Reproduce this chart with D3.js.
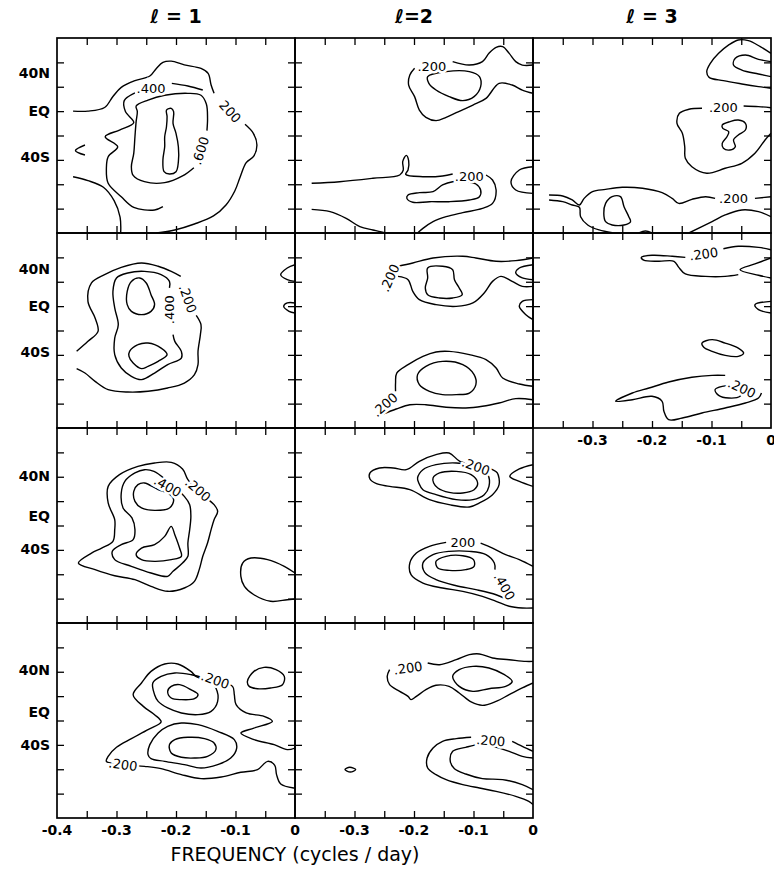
<!DOCTYPE html>
<html>
<head>
<meta charset="utf-8">
<title>Contour panels, l = 1..3</title>
<script src="https://cdn.jsdelivr.net/npm/d3@7"></script>
<style>
  body { margin: 0; background: #fff; }
  svg { display: block; }
  .ct { fill: none; stroke: #000; stroke-width: 1.4px; stroke-linejoin: round; }
  .lab { font-family: "DejaVu Sans", sans-serif; font-size: 13px; fill: #000;
         stroke: #fff; stroke-width: 5px; paint-order: stroke; }
</style>
</head>
<body>
<script>
// axes
var freqDomain = [-0.4, 0];
var latDomain = [-80, 80];
var freqTicks = [-0.35, -0.3, -0.25, -0.2, -0.15, -0.1, -0.05];
var latTicks = [-60, -40, -20, 0, 20, 40, 60];
var latLabelText = ["40N", "EQ", "40S"];
// where the hand-lettered latitude labels sit on each row's axis (degrees)
var latLabelPos = [[51.3, 20.1, -17.6], [50.1, 20.5, -17.2], [41, 8.2, -18.9], [41.8, 7.4, -19.7]];
var freqLabelsCol1 = [-0.4, -0.3, -0.2, -0.1, 0];
var freqLabelsOther = [-0.3, -0.2, -0.1, 0];
var headers = ["\u2113 = 1", "\u2113=2", "\u2113 = 3"];

// contours, [frequency, latitude]; c = closed
var l1r1 = [
  {c:0, p:[[-0.373,20],[-0.348,20],[-0.320,23],[-0.306,32],[-0.292,39.5],[-0.269,45],[-0.244,48.8],[-0.233,55],[-0.222,60],[-0.208,61],[-0.186,58],[-0.158,55],[-0.146,51],[-0.141,41.4],[-0.136,34.6]]},
  {c:0, p:[[-0.084,9.2],[-0.070,1.8],[-0.064,-7.8],[-0.069,-16.8],[-0.082,-22.3],[-0.092,-33.8],[-0.101,-45.3],[-0.116,-57],[-0.137,-66],[-0.169,-72.6],[-0.202,-77.5],[-0.233,-80]]},
  {c:0, p:[[-0.373,-33.8],[-0.348,-37],[-0.322,-42.5],[-0.304,-53.5],[-0.294,-67],[-0.293,-80]]},
  {c:0, p:[[-0.269,35],[-0.287,28.6],[-0.285,19.6],[-0.271,10.5],[-0.295,4.5],[-0.319,-1],[-0.298,-9.2],[-0.314,-17.4],[-0.317,-27],[-0.314,-39.2],[-0.292,-50.2],[-0.271,-58.9],[-0.236,-61.1],[-0.222,-58.4]]},
  {c:0, p:[[-0.207,42.8],[-0.180,40.6],[-0.155,37.3]]},
  {c:0, p:[[-0.170,-26.4],[-0.189,-33.2],[-0.219,-38.7],[-0.253,-37.9],[-0.272,-32.7],[-0.275,-25.6],[-0.271,-14.6],[-0.269,-1],[-0.267,11.4],[-0.265,19.6],[-0.267,24.2],[-0.247,29.1],[-0.219,33],[-0.180,34.6],[-0.158,33],[-0.149,25.8],[-0.147,14.1],[-0.148,4]]},
  {c:1, p:[[-0.216,20.9],[-0.208,22.3],[-0.204,19.6],[-0.205,10],[-0.200,1.8],[-0.196,-9.2],[-0.196,-21.5],[-0.200,-29.7],[-0.211,-31.6],[-0.220,-29.7],[-0.222,-20.1],[-0.219,-9.2],[-0.219,-1],[-0.216,7.2],[-0.215,15.5]]},
  {c:0, p:[[-0.353,-7.8],[-0.369,-12.4],[-0.353,-16]]}
];
var l1r1Labels = [[-0.242,38.7,".400",0],[-0.109,19.6,"200",48],[-0.159,-12.4,".600",-72]];

var l2r1 = [
  {c:0, p:[[-0.199,55.1],[-0.207,49.6],[-0.209,41.4],[-0.199,31.9],[-0.191,20.9],[-0.180,14.9],[-0.163,12.2],[-0.146,14.9],[-0.129,18.7],[-0.101,25],[-0.079,30.5],[-0.057,42.8],[-0.035,41.4],[-0.018,37.3],[0,34.6]]},
  {c:0, p:[[-0.135,60.6],[-0.107,57.8],[-0.085,60.6],[-0.074,67.4],[-0.062,72.3],[-0.051,72.9],[-0.040,67.4],[-0.029,60.6],[-0.018,57.8],[0,57.8]]},
  {c:1, p:[[-0.177,48.3],[-0.146,52.4],[-0.107,52.4],[-0.090,48.3],[-0.088,40.1],[-0.099,31.9],[-0.118,28.6],[-0.141,31.9],[-0.163,37.3],[-0.175,42.8]]},
  {c:0, p:[[-0.372,-39.2],[-0.325,-37.9],[-0.269,-35.1],[-0.224,-32.4],[-0.218,-28.3],[-0.219,-21.5],[-0.213,-16.3],[-0.209,-20.6],[-0.210,-28.3],[-0.214,-31.9],[-0.185,-33.8],[-0.152,-33.2],[-0.135,-31.6]]},
  {c:0, p:[[-0.079,-32.4],[-0.068,-36.5],[-0.062,-44.7],[-0.068,-55.7],[-0.085,-59.8],[-0.118,-63.3],[-0.146,-66.6],[-0.168,-70.7],[-0.185,-76.2],[-0.194,-80]]},
  {c:1, p:[[-0.210,-48.8],[-0.191,-46.9],[-0.168,-46.1],[-0.152,-40.6],[-0.135,-37.9],[-0.113,-37.9],[-0.096,-39.8],[-0.088,-44.7],[-0.090,-50.2],[-0.107,-52.9],[-0.141,-54.3],[-0.174,-54.3],[-0.202,-54.8],[-0.212,-51.6]]},
  {c:0, p:[[-0.372,-60.6],[-0.341,-62.5],[-0.314,-68],[-0.291,-74.8],[-0.269,-77.5],[-0.249,-79.7],[-0.241,-80]]},
  {c:0, p:[[0,-25.6],[-0.023,-28.3],[-0.037,-37.9],[-0.029,-44.7],[0,-47.5]]}
];
var l2r1Labels = [[-0.170,57,".200",0],[-0.107,-33.8,".200",0]];

var l3r1 = [
  {c:0, p:[[0,67.4],[-0.018,72.9],[-0.038,77.8],[-0.055,78.4],[-0.071,74.3],[-0.088,67.4],[-0.102,59.2],[-0.108,52.4],[-0.104,47.7],[-0.080,45],[-0.049,42.3],[-0.021,40.1],[0,38.7]]},
  {c:0, p:[[0,60.6],[-0.021,62.5],[-0.043,66],[-0.060,63.3],[-0.063,57.8],[-0.049,53.7],[-0.021,50.5],[0,48.3]]},
  {c:0, p:[[-0.046,24.2],[-0.021,23.7],[0,22.8]]},
  {c:0, p:[[-0.116,22.3],[-0.138,21.5],[-0.154,18.2],[-0.158,10],[-0.149,1.8],[-0.145,-9.2],[-0.144,-18.7],[-0.133,-25.6],[-0.108,-31],[-0.077,-26.9],[-0.049,-22.8],[-0.027,-14.6],[-0.010,-3.7],[0,1.8]]},
  {c:1, p:[[-0.082,8.6],[-0.069,11.4],[-0.055,12.7],[-0.043,10],[-0.043,4.5],[-0.055,0.4],[-0.063,-3.7],[-0.060,-9.2],[-0.069,-11.9],[-0.080,-10.5],[-0.082,-6.4],[-0.074,-1],[-0.071,3.1],[-0.081,5.9]]},
  {c:0, p:[[-0.373,-48.8],[-0.350,-49.6],[-0.334,-52.9],[-0.322,-57],[-0.314,-51.6],[-0.300,-46.1],[-0.278,-44.2],[-0.250,-42.5],[-0.216,-43.3],[-0.183,-46.9],[-0.166,-51.6],[-0.155,-55.7],[-0.133,-52.4],[-0.110,-50.2],[-0.094,-51.6]]},
  {c:0, p:[[-0.027,-51.6],[0,-50.2]]},
  {c:0, p:[[-0.373,-52.9],[-0.350,-54.3],[-0.334,-57],[-0.322,-58.9],[-0.320,-66.6],[-0.308,-73.4],[-0.289,-77.5],[-0.267,-79.7]]},
  {c:0, p:[[-0.138,-80],[-0.099,-70.7],[-0.077,-65.2],[-0.049,-61.1],[-0.021,-62.5],[0,-66.6]]},
  {c:1, p:[[-0.278,-55.7],[-0.267,-50.2],[-0.253,-50.2],[-0.247,-58.4],[-0.239,-66.6],[-0.236,-70.7],[-0.247,-73.4],[-0.267,-73.4],[-0.278,-70.7],[-0.281,-63.9]]},
  {c:0, p:[[-0.222,-80],[-0.211,-78.4],[-0.200,-80]]}
];
var l3r1Labels = [[-0.080,23.1,".200",0],[-0.063,-51.6,".200",0]];

var l1r2 = [
  {c:0, p:[[-0.367,-17.1],[-0.348,-8.9],[-0.331,-0.7],[-0.336,10.3],[-0.348,23.9],[-0.342,39],[-0.320,45.8],[-0.292,51.8],[-0.258,55.4],[-0.230,52.7],[-0.208,48.5],[-0.192,44.4]]},
  {c:0, p:[[-0.166,12.4],[-0.158,4.8],[-0.159,-3.4],[-0.163,-17.1],[-0.163,-28],[-0.169,-36.2],[-0.186,-43.1],[-0.214,-47.2],[-0.247,-49.9],[-0.281,-50.5],[-0.314,-48.5],[-0.336,-41.7],[-0.353,-34.9],[-0.367,-31.3]]},
  {c:0, p:[[-0.211,34.9],[-0.211,40.3],[-0.225,45.8],[-0.253,48.5],[-0.281,47.2],[-0.300,43.1],[-0.306,32.1],[-0.303,18.5],[-0.297,4.8],[-0.303,-6.2],[-0.303,-19.8],[-0.292,-30.8],[-0.275,-37.6],[-0.258,-40.3],[-0.236,-34.9],[-0.214,-28],[-0.191,-22.6],[-0.191,-17.1],[-0.202,-8.9],[-0.205,-3.4]]},
  {c:1, p:[[-0.275,40.3],[-0.261,43.1],[-0.250,39],[-0.242,29.4],[-0.236,21.2],[-0.242,15.7],[-0.258,13],[-0.275,15.7],[-0.282,21.2],[-0.282,32.1]]},
  {c:1, p:[[-0.278,-17.1],[-0.264,-11.6],[-0.247,-10.3],[-0.225,-14.4],[-0.215,-19.8],[-0.230,-25.3],[-0.247,-29.4],[-0.258,-31.3],[-0.272,-26.7],[-0.279,-21.2]]},
  {c:0, p:[[0,54],[-0.013,51.3],[-0.024,45.8],[-0.013,41.7],[0,40.3]]},
  {c:0, p:[[0,22.6],[-0.013,22.6],[-0.019,19.8],[-0.010,15.7],[0,14.4]]}
];
var l1r2Labels = [[-0.180,26.1,".200",70],[-0.212,17.1,".400",-90]];

var l2r2 = [
  {c:0, p:[[-0.227,52.7],[-0.202,55.4],[-0.168,59.5],[-0.118,60.9],[-0.096,59.5],[-0.062,56.8],[-0.029,57.3],[0,59.5]]},
  {c:0, p:[[-0.227,44.4],[-0.210,41.7],[-0.202,32.1],[-0.191,25.3],[-0.163,21.2],[-0.129,19.8],[-0.101,22.6],[-0.082,30.8],[-0.068,40.3],[-0.054,44.4],[-0.035,40.3],[-0.018,36.2],[0,36.2]]},
  {c:1, p:[[-0.177,51.3],[-0.152,52.7],[-0.135,49.9],[-0.132,41.7],[-0.124,34.9],[-0.119,29.4],[-0.135,26.7],[-0.157,26.7],[-0.177,29.4],[-0.181,34.9],[-0.177,43.1]]},
  {c:0, p:[[0,54],[-0.023,51.3],[-0.029,47.2],[-0.018,43.1],[0,41.7]]},
  {c:0, p:[[0,25.3],[-0.018,23.9],[-0.023,19.8],[-0.012,13],[0,8.9]]},
  {c:0, p:[[-0.231,-49.9],[-0.231,-43.1],[-0.229,-34.9],[-0.210,-28],[-0.185,-21.2],[-0.163,-17.6],[-0.141,-17.1],[-0.107,-19.8],[-0.079,-23.9],[-0.062,-30.8],[-0.051,-39],[-0.023,-43.9],[0,-45.8]]},
  {c:0, p:[[-0.252,-68.5],[-0.230,-64.4],[-0.207,-60.9],[-0.180,-60.9],[-0.146,-63],[-0.113,-63.6],[-0.085,-62.2],[-0.057,-59.5],[-0.029,-55.9],[0,-56.8]]},
  {c:1, p:[[-0.194,-36.2],[-0.180,-29.4],[-0.152,-25.3],[-0.118,-28],[-0.099,-36.2],[-0.096,-44.4],[-0.107,-51.3],[-0.129,-52.6],[-0.152,-52.6],[-0.174,-49.9],[-0.191,-44.4]]}
];
var l2r2Labels = [[-0.241,43.1,".200",-66],[-0.249,-60.9,".200",-41]];

var l3r2 = [
  {c:0, p:[[-0.080,67.1],[-0.055,69.1],[-0.021,68.2],[0,66.3]]},
  {c:0, p:[[-0.144,60],[-0.166,60.9],[-0.200,61.7],[-0.218,60],[-0.214,57.8],[-0.189,56.8],[-0.163,56.8],[-0.155,51.8],[-0.144,46.4],[-0.110,44.4],[-0.077,44.4],[-0.055,45.8]]},
  {c:0, p:[[0,59.5],[-0.027,54.6],[-0.052,49.9],[-0.021,45.3],[0,43.1]]},
  {c:0, p:[[0,23.9],[-0.027,21.2],[-0.021,17.1],[0,14.4]]},
  {c:1, p:[[-0.116,-10.3],[-0.099,-7.5],[-0.077,-10.3],[-0.055,-14.4],[-0.046,-18.5],[-0.055,-21.2],[-0.077,-20.4],[-0.099,-17.1],[-0.113,-13.8]]},
  {c:0, p:[[-0.077,-36.8],[-0.099,-36.8],[-0.133,-38.4],[-0.172,-42.3],[-0.205,-47.2],[-0.233,-51.3],[-0.261,-58.1],[-0.233,-56.8],[-0.200,-54],[-0.183,-58.1],[-0.180,-66.3],[-0.172,-73.2],[-0.149,-71.8],[-0.116,-67.7],[-0.077,-63.6],[-0.043,-59.5],[-0.021,-55.4],[-0.016,-51.3]]},
  {c:1, p:[[-0.094,-48.5],[-0.082,-45.8],[-0.063,-45.8],[-0.049,-49.9],[-0.052,-54],[-0.071,-55.4],[-0.088,-53.2]]}
];
var l3r2Labels = [[-0.113,62.8,".200",-8],[-0.049,-47.2,".200",25]];

var l1r3 = [
  {c:1, p:[[-0.364,-30.8],[-0.342,-22.6],[-0.325,-18.5],[-0.306,-13],[-0.303,-3.4],[-0.303,4.8],[-0.314,18.5],[-0.314,32.1],[-0.295,41.7],[-0.264,48.5],[-0.236,51.3],[-0.208,51.8],[-0.189,46.4],[-0.180,37.6],[-0.163,28],[-0.136,17.1],[-0.130,11.6],[-0.136,4.8],[-0.141,-3.4],[-0.147,-14.4],[-0.155,-25.3],[-0.161,-36.2],[-0.169,-45.8],[-0.186,-51.3],[-0.214,-54],[-0.242,-49.9],[-0.269,-44.4],[-0.303,-41.2],[-0.336,-36.2]]},
  {c:1, p:[[-0.237,44.4],[-0.214,36.2],[-0.186,23.9],[-0.177,17.1],[-0.175,7.5],[-0.177,-3.4],[-0.180,-14.4],[-0.180,-25.3],[-0.189,-30.8],[-0.205,-37.6],[-0.214,-41.7],[-0.242,-39],[-0.275,-33.5],[-0.303,-28],[-0.307,-21.2],[-0.292,-15.7],[-0.272,-11.6],[-0.269,-3.4],[-0.274,6.2],[-0.289,14.4],[-0.292,26.7],[-0.286,36.2],[-0.269,43.1],[-0.253,45.8]]},
  {c:1, p:[[-0.264,33.5],[-0.253,34.9],[-0.230,29.4],[-0.214,26.7],[-0.204,21.2],[-0.211,14.4],[-0.236,12.4],[-0.258,14.4],[-0.269,19.8],[-0.271,28]]},
  {c:1, p:[[-0.208,-0.7],[-0.202,-7.5],[-0.194,-18.5],[-0.191,-25.3],[-0.208,-28],[-0.236,-29.4],[-0.258,-28],[-0.267,-23.9],[-0.258,-18.5],[-0.236,-15.7],[-0.219,-8.9]]},
  {c:0, p:[[0,-39],[-0.018,-33.5],[-0.046,-28],[-0.074,-26.7],[-0.088,-30.8],[-0.091,-41.7],[-0.085,-49.9],[-0.069,-56.8],[-0.041,-62.2],[-0.013,-60.9],[0,-60.3]]}
];
var l1r3Labels = [[-0.163,29.4,".200",41],[-0.214,32.1,".400",30]];

var l2r3 = [
  {c:1, p:[[-0.274,43.1],[-0.258,47.2],[-0.235,47.2],[-0.213,45.8],[-0.191,52.7],[-0.163,58.1],[-0.141,59.5],[-0.123,52.7],[-0.096,49.9],[-0.068,45.8],[-0.060,43.1],[-0.057,33.5],[-0.068,25.3],[-0.090,18.5],[-0.107,15.2],[-0.141,17.1],[-0.174,21.2],[-0.207,29.4],[-0.241,32.1],[-0.263,34.3],[-0.274,38.2]]},
  {c:1, p:[[-0.194,39],[-0.185,45.8],[-0.163,49.9],[-0.129,51.3],[-0.096,48.5],[-0.076,41.7],[-0.074,32.1],[-0.082,25.3],[-0.101,21.2],[-0.129,21.2],[-0.163,25.3],[-0.185,29.4],[-0.192,34.9]]},
  {c:1, p:[[-0.168,39],[-0.157,43.1],[-0.129,44.4],[-0.104,41.7],[-0.093,34.9],[-0.099,29.4],[-0.118,26.7],[-0.141,27.2],[-0.160,30.8],[-0.167,34.9]]},
  {c:0, p:[[0,49.9],[-0.023,46.4],[-0.039,40.3],[-0.023,36.2],[0,32.1]]},
  {c:0, p:[[-0.146,-13.8],[-0.174,-17.1],[-0.196,-22.6],[-0.207,-30.8],[-0.205,-40.3],[-0.185,-47.2],[-0.152,-51.3],[-0.118,-54],[-0.085,-58.1],[-0.062,-62.2],[-0.040,-66.3],[-0.018,-67.7],[0,-67.7]]},
  {c:0, p:[[-0.088,-14.4],[-0.068,-18.5],[-0.046,-23.9],[-0.023,-28],[0,-33.5]]},
  {c:0, p:[[-0.043,-60.9],[-0.062,-56.8],[-0.096,-52.6],[-0.129,-49.4],[-0.163,-44.4],[-0.182,-38.4],[-0.185,-30.8],[-0.168,-23.9],[-0.141,-21.2],[-0.107,-21.2],[-0.079,-23.9],[-0.065,-30.8],[-0.064,-36.2]]},
  {c:1, p:[[-0.163,-29.4],[-0.146,-25.3],[-0.118,-24.8],[-0.100,-28],[-0.099,-33.5],[-0.113,-36.2],[-0.141,-36.8],[-0.160,-34.9]]}
];
var l2r3Labels = [[-0.096,48.5,".200",20],[-0.118,-13.8,"200",0],[-0.048,-50,".400",60]];

var l1r4 = [
  {c:0, p:[[0,-22.6],[-0.013,-23.9],[-0.035,-19.8],[-0.069,-15.7],[-0.091,-10.3],[-0.069,-6.2],[-0.038,-0.7],[-0.052,3.4],[-0.082,6.2],[-0.099,13],[-0.102,21.2],[-0.105,28],[-0.136,32.1],[-0.165,35.7],[-0.175,40.3],[-0.197,46.4],[-0.219,46.4],[-0.242,40.3],[-0.258,30.8],[-0.272,21.2],[-0.255,11.6],[-0.236,4.8],[-0.225,-1.2],[-0.247,-7.5],[-0.275,-14.9],[-0.300,-22],[-0.314,-29.4],[-0.317,-33.5],[-0.286,-36.2],[-0.253,-37.6],[-0.225,-39.5],[-0.191,-44.4],[-0.158,-47.7],[-0.124,-46.4],[-0.091,-42.5],[-0.063,-40.3],[-0.046,-33.5],[-0.034,-36.8],[-0.031,-44.4],[-0.024,-52.1],[-0.002,-55.4],[0,-55.4]]},
  {c:1, p:[[-0.236,21.2],[-0.239,30.8],[-0.225,36.2],[-0.202,39],[-0.175,37.6],[-0.147,33.5],[-0.133,26.7],[-0.130,15.7],[-0.141,7.5],[-0.163,4.8],[-0.191,6.2],[-0.214,10.3],[-0.230,15.7]]},
  {c:1, p:[[-0.214,23.9],[-0.208,28],[-0.194,29.4],[-0.175,25.3],[-0.163,21.2],[-0.169,17.9],[-0.191,17.1],[-0.208,18.5]]},
  {c:1, p:[[-0.247,-28],[-0.244,-19.8],[-0.230,-10.3],[-0.214,-4.8],[-0.191,-2.1],[-0.163,-3.4],[-0.130,-8.9],[-0.102,-15.7],[-0.098,-22.6],[-0.108,-30.8],[-0.130,-36.2],[-0.158,-39],[-0.186,-36.2],[-0.219,-33.5],[-0.242,-31.3]]},
  {c:1, p:[[-0.211,-19.8],[-0.202,-15.7],[-0.180,-13.8],[-0.152,-14.9],[-0.136,-18.5],[-0.133,-23.9],[-0.147,-29.4],[-0.169,-30.8],[-0.191,-30.2],[-0.208,-26.7]]},
  {c:1, p:[[-0.080,32.1],[-0.069,40.3],[-0.052,43.6],[-0.032,41.7],[-0.018,36.2],[-0.021,29.4],[-0.041,26.7],[-0.063,26.1],[-0.077,28]]}
];
var l1r4Labels = [[-0.134,33.2,".200",20],[-0.289,-36.2,".200",8]];

var l2r4 = [
  {c:0, p:[[-0.241,41.7],[-0.245,36.2],[-0.241,29.4],[-0.224,23.9],[-0.210,19.8],[-0.205,17.1],[-0.196,19.8],[-0.180,25.3],[-0.163,28.9],[-0.141,28],[-0.124,22.6],[-0.104,15.2],[-0.085,12.4],[-0.062,15.7],[-0.040,21.2],[-0.018,26.7],[0,30.8]]},
  {c:0, p:[[-0.177,47.2],[-0.157,45.8],[-0.129,49.9],[-0.107,54],[-0.090,54.6],[-0.068,51.3],[-0.040,49.9],[-0.012,48.5],[0,48.5]]},
  {c:1, p:[[-0.135,36.2],[-0.124,41.7],[-0.101,44.4],[-0.074,43.1],[-0.048,37.6],[-0.035,32.1],[-0.046,28],[-0.074,26.1],[-0.101,23.9],[-0.124,28]]},
  {c:0, p:[[-0.104,-13.8],[-0.129,-14.9],[-0.152,-17.1],[-0.168,-22.6],[-0.178,-30.8],[-0.177,-39],[-0.163,-44.4],[-0.146,-48.5],[-0.118,-52.6],[-0.090,-55.4],[-0.062,-58.1],[-0.029,-62.2],[-0.007,-66.3],[0,-69]]},
  {c:0, p:[[-0.035,-17.1],[-0.018,-21.2],[0,-25.3]]},
  {c:0, p:[[0,-30.8],[-0.018,-29.4],[-0.040,-25.3],[-0.068,-21.2],[-0.090,-19.8],[-0.113,-22],[-0.135,-25.3],[-0.139,-33.5],[-0.132,-39.5],[-0.113,-43.9],[-0.085,-47.7],[-0.051,-48.5],[-0.018,-52.6],[0,-56.8]]},
  {c:1, p:[[-0.316,-40.3],[-0.308,-38.4],[-0.298,-40.3],[-0.307,-42.3]]}
];
var l2r4Labels = [[-0.210,43.1,".200",-8],[-0.071,-16.5,".200",5]];

var panels = [
  {col:0, row:0, lines:l1r1, labels:l1r1Labels},
  {col:1, row:0, lines:l2r1, labels:l2r1Labels},
  {col:2, row:0, lines:l3r1, labels:l3r1Labels},
  {col:0, row:1, lines:l1r2, labels:l1r2Labels},
  {col:1, row:1, lines:l2r2, labels:l2r2Labels},
  {col:2, row:1, lines:l3r2, labels:l3r2Labels},
  {col:0, row:2, lines:l1r3, labels:l1r3Labels},
  {col:1, row:2, lines:l2r3, labels:l2r3Labels},
  {col:0, row:3, lines:l1r4, labels:l1r4Labels},
  {col:1, row:3, lines:l2r4, labels:l2r4Labels}
];
var lastRow = [3, 3, 1];

var width = 774, height = 871;
var padLeft = 57, padTop = 38, pw = 238, ph = 195;

var svg = d3.select("body").append("svg")
    .attr("width", width).attr("height", height);

var font = "'DejaVu Sans', sans-serif";

// column headers
svg.selectAll(".hdr").data(headers).enter().append("text")
    .attr("x", function (d, i) { return padLeft + i * pw + pw / 2; })
    .attr("y", 23)
    .attr("text-anchor", "middle")
    .style("font-family", font).style("font-size", "19px").style("font-weight", "bold")
    .text(function (d) { return d; });

panels.forEach(function (pn, k) {
    var x0 = padLeft + pn.col * pw, y0 = padTop + pn.row * ph;
    var x = d3.scaleLinear().domain(freqDomain).range([x0, x0 + pw]);
    var y = d3.scaleLinear().domain(latDomain).range([y0 + ph, y0]);

    var clipId = "clip" + k;
    svg.append("clipPath").attr("id", clipId)
        .append("rect").attr("x", x0).attr("y", y0).attr("width", pw).attr("height", ph);

    var g = svg.append("g").attr("clip-path", "url(#" + clipId + ")");

    var open = d3.line().x(function (d) { return x(d[0]); }).y(function (d) { return y(d[1]); })
        .curve(d3.curveCatmullRom.alpha(0.5));
    var closed = d3.line().x(function (d) { return x(d[0]); }).y(function (d) { return y(d[1]); })
        .curve(d3.curveCatmullRomClosed.alpha(0.5));

    g.selectAll(".ct").data(pn.lines).enter().append("path")
        .attr("class", "ct")
        .attr("d", function (d) { return d.c ? closed(d.p) : open(d.p); });

    // contour labels (white halo cuts the line)
    g.selectAll(".lab").data(pn.labels).enter().append("text")
        .attr("class", "lab")
        .attr("text-anchor", "middle")
        .attr("dy", "0.36em")
        .attr("transform", function (d) {
            return "translate(" + x(d[0]) + "," + y(d[1]) + ") rotate(" + d[3] + ")";
        })
        .text(function (d) { return d[2]; });

    // inward ticks on all four sides
    var tk = 7;
    var axes = [
        svg.append("g").attr("transform", "translate(0," + y0 + ")")
            .call(d3.axisBottom(x).tickValues(freqTicks).tickSize(tk).tickFormat("")),
        svg.append("g").attr("transform", "translate(0," + (y0 + ph) + ")")
            .call(d3.axisTop(x).tickValues(freqTicks).tickSize(tk).tickFormat("")),
        svg.append("g").attr("transform", "translate(" + x0 + ",0)")
            .call(d3.axisRight(y).tickValues(latTicks).tickSize(tk).tickFormat("")),
        svg.append("g").attr("transform", "translate(" + (x0 + pw) + ",0)")
            .call(d3.axisLeft(y).tickValues(latTicks).tickSize(tk).tickFormat(""))
    ];
    axes.forEach(function (a) {
        a.select(".domain").remove();
        a.selectAll("line").attr("stroke", "#000").attr("stroke-width", 1.3);
    });

    svg.append("rect").attr("x", x0).attr("y", y0).attr("width", pw).attr("height", ph)
        .attr("fill", "none").attr("stroke", "#000").attr("stroke-width", 1.7);

    // latitude labels on the first column
    if (pn.col === 0) {
        svg.selectAll(".lat" + k).data(latLabelPos[pn.row]).enter().append("text")
            .attr("x", x0 - 7)
            .attr("y", function (d) { return y(d); })
            .attr("dy", "0.36em")
            .attr("text-anchor", "end")
            .style("font-family", font).style("font-size", "14px").style("font-weight", "bold")
            .text(function (d, i) { return latLabelText[i]; });
    }

    // frequency labels under the lowest panel of each column
    if (pn.row === lastRow[pn.col]) {
        var vals = pn.col === 0 ? freqLabelsCol1 : freqLabelsOther;
        svg.selectAll(".fq" + k).data(vals).enter().append("text")
            .attr("x", function (d) { return x(d); })
            .attr("y", y0 + ph + 17)
            .attr("text-anchor", "middle")
            .style("font-family", font).style("font-size", "14px").style("font-weight", "bold")
            .text(function (d) { return d === 0 ? "0" : d3.format(".1f")(d).replace("\u2212", "-"); });
    }
});

svg.append("text")
    .attr("x", padLeft + pw)
    .attr("y", 861)
    .attr("text-anchor", "middle")
    .style("font-family", font).style("font-size", "19px")
    .text("FREQUENCY (cycles / day)");
</script>
</body>
</html>
